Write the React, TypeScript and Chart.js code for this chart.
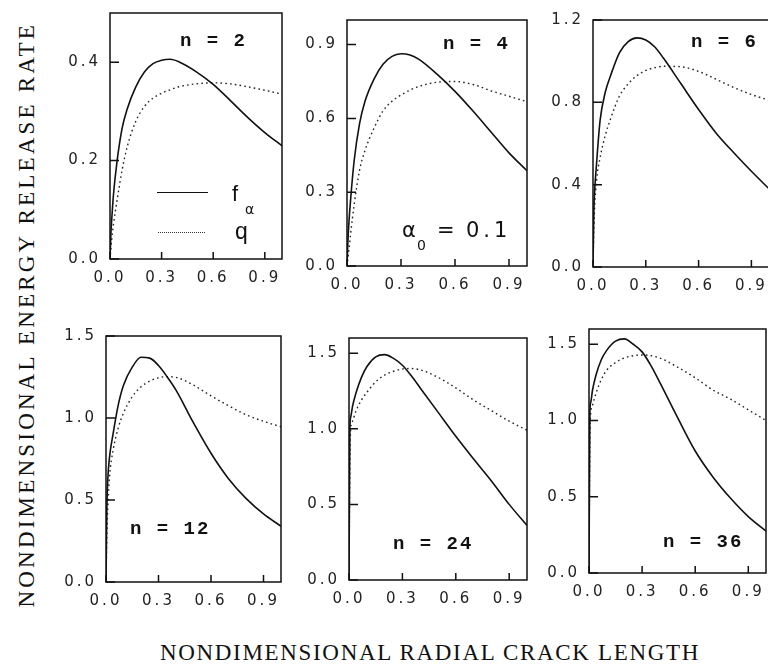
import React, { useEffect, useRef } from "react";
import { Chart, registerables } from "chart.js";
Chart.register(...registerables);

// ---------- data ----------
const xGrid = [0, 0.005, 0.01, 0.02, 0.04, 0.07, 0.1, 0.15, 0.2, 0.25, 0.3, 0.35, 0.4, 0.5, 0.6, 0.7, 0.8, 0.9, 1.0];

const f2 = [0, 0.05, 0.08, 0.13, 0.196, 0.265, 0.305, 0.35, 0.38, 0.397, 0.404, 0.406, 0.401, 0.381, 0.355, 0.322, 0.288, 0.257, 0.23];
const q2 = [0, 0.02, 0.04, 0.07, 0.117, 0.18, 0.228, 0.28, 0.31, 0.327, 0.337, 0.344, 0.35, 0.356, 0.358, 0.356, 0.35, 0.343, 0.335];
const f4 = [0, 0.1, 0.17, 0.27, 0.43, 0.58, 0.67, 0.76, 0.82, 0.852, 0.863, 0.858, 0.84, 0.78, 0.71, 0.63, 0.545, 0.46, 0.387];
const q4 = [0, 0.03, 0.06, 0.13, 0.25, 0.39, 0.47, 0.56, 0.63, 0.67, 0.695, 0.715, 0.73, 0.747, 0.75, 0.738, 0.712, 0.69, 0.668];
const f6 = [0, 0.28, 0.38, 0.5, 0.71, 0.85, 0.93, 1.04, 1.095, 1.113, 1.103, 1.07, 1.015, 0.89, 0.765, 0.65, 0.555, 0.465, 0.38];
const q6 = [0, 0.2, 0.3, 0.42, 0.53, 0.64, 0.72, 0.83, 0.89, 0.93, 0.955, 0.968, 0.975, 0.973, 0.95, 0.912, 0.872, 0.838, 0.81];
const f12 = [0, 0.45, 0.62, 0.76, 0.9, 1.08, 1.2, 1.31, 1.37, 1.365, 1.32, 1.25, 1.17, 0.97, 0.785, 0.63, 0.51, 0.415, 0.34];
const q12 = [0, 0.3, 0.45, 0.64, 0.8, 0.94, 1.03, 1.13, 1.19, 1.225, 1.245, 1.252, 1.248, 1.2, 1.135, 1.075, 1.02, 0.98, 0.946];
const f24 = [0, 1.0, 1.08, 1.15, 1.24, 1.34, 1.41, 1.475, 1.49, 1.465, 1.42, 1.35, 1.27, 1.11, 0.95, 0.8, 0.655, 0.5, 0.36];
const q24 = [0, 0.8, 1.0, 1.05, 1.12, 1.19, 1.24, 1.31, 1.355, 1.38, 1.395, 1.398, 1.39, 1.34, 1.27, 1.19, 1.12, 1.05, 0.99];
const f36 = [0, 1.05, 1.12, 1.2, 1.3, 1.4, 1.46, 1.52, 1.535, 1.5, 1.45, 1.36, 1.25, 1.02, 0.8, 0.63, 0.49, 0.37, 0.275];
const q36 = [0, 0.9, 1.05, 1.1, 1.18, 1.27, 1.33, 1.38, 1.41, 1.425, 1.43, 1.425, 1.41, 1.35, 1.28, 1.2, 1.14, 1.07, 1.0];

const xTicks = [0, 0.3, 0.6, 0.9];
const yTicks2 = [0, 0.2, 0.4];
const yTicks4 = [0, 0.3, 0.6, 0.9];
const yTicks6 = [0, 0.4, 0.8, 1.2];
const yTicksBig = [0, 0.5, 1.0, 1.5];
const yMaxes = [0.5, 1.0, 1.2, 1.5, 1.6, 1.6];
const nLabels = ["n = 2", "n = 4", "n = 6", "n = 12", "n = 24", "n = 36"];
const xTitle = "NONDIMENSIONAL RADIAL CRACK LENGTH";
const yTitle = "NONDIMENSIONAL ENERGY RELEASE RATE";

// ---------- layout ----------
const AXW = 60; // y-axis box width
const AXH = 36; // x-axis box height
const PT = 12; // top padding
const PR = 8; // right padding
const TICK_LS = 3;

type Panel = {
  f: number[]; q: number[]; yTicks: number[]; yMax: number;
  box: [number, number, number, number]; label: string; lab: [number, number];
};

const panels: Panel[] = [
  { f: f2, q: q2, yTicks: yTicks2, yMax: yMaxes[0], box: [110, 7, 282, 259], label: nLabels[0], lab: [180, 47] },
  { f: f4, q: q4, yTicks: yTicks4, yMax: yMaxes[1], box: [347, 14, 527, 266], label: nLabels[1], lab: [443, 50] },
  { f: f6, q: q6, yTicks: yTicks6, yMax: yMaxes[2], box: [593, 14, 769, 267], label: nLabels[2], lab: [691, 48] },
  { f: f12, q: q12, yTicks: yTicksBig, yMax: yMaxes[3], box: [106, 330, 281, 582], label: nLabels[3], lab: [130, 535] },
  { f: f24, q: q24, yTicks: yTicksBig, yMax: yMaxes[4], box: [349, 332, 527, 580], label: nLabels[4], lab: [393, 550] },
  { f: f36, q: q36, yTicks: yTicksBig, yMax: yMaxes[5], box: [589, 323, 766, 573], label: nLabels[5], lab: [663, 548] },
];

const framePlugin = {
  id: "frame",
  beforeDraw(chart: any) {
    chart.ctx.letterSpacing = TICK_LS + "px";
  },
  afterDraw(chart: any) {
    const { ctx, chartArea, scales } = chart;
    const { left, top, right, bottom } = chartArea;
    ctx.save();
    ctx.letterSpacing = "0px";
    ctx.strokeStyle = "#111";
    ctx.lineWidth = 1.5;
    ctx.strokeRect(left, top, right - left, bottom - top);
    ctx.beginPath();
    scales.x.ticks.forEach((t: any) => {
      const px = scales.x.getPixelForValue(t.value);
      ctx.moveTo(px, bottom);
      ctx.lineTo(px, bottom - 7);
    });
    scales.y.ticks.forEach((t: any) => {
      const py = scales.y.getPixelForValue(t.value);
      ctx.moveTo(left, py);
      ctx.lineTo(left + 9, py);
    });
    ctx.stroke();
    ctx.restore();
  },
};

function PanelChart({ p }: { p: Panel }) {
  const ref = useRef<HTMLCanvasElement>(null);
  const [L, T, R, B] = p.box;
  const w = R - L + AXW + PR;
  const h = B - T + AXH + PT;
  useEffect(() => {
    const tickFont = { family: "DejaVu Sans", size: 15 };
    const chart = new Chart(ref.current!, {
      type: "line",
      data: {
        datasets: [
          {
            data: xGrid.map((x, i) => ({ x, y: p.f[i] })),
            borderColor: "#111",
            borderWidth: 1.6,
            pointRadius: 0,
            cubicInterpolationMode: "monotone",
            fill: false,
          },
          {
            data: xGrid.map((x, i) => ({ x, y: p.q[i] })),
            borderColor: "#222",
            borderWidth: 1.4,
            borderDash: [1.6, 3.2],
            pointRadius: 0,
            cubicInterpolationMode: "monotone",
            fill: false,
          },
        ],
      },
      options: {
        animation: false,
        responsive: false,
        maintainAspectRatio: false,
        layout: { padding: { top: PT, right: PR, left: 0, bottom: 0 } },
        plugins: { legend: { display: false }, tooltip: { enabled: false } },
        scales: {
          x: {
            type: "linear",
            min: 0,
            max: 1,
            grid: { display: false, drawTicks: false },
            border: { display: false },
            afterBuildTicks: (s: any) => { s.ticks = xTicks.map((v) => ({ value: v })); },
            afterFit: (s: any) => { s.height = AXH; },
            ticks: {
              padding: 10, font: tickFont, color: "#222", maxRotation: 0, autoSkip: false,
              callback: (v: any) => Number(v).toFixed(1),
            },
          },
          y: {
            type: "linear",
            min: 0,
            max: p.yMax,
            grid: { display: false, drawTicks: false },
            border: { display: false },
            afterBuildTicks: (s: any) => { s.ticks = p.yTicks.map((v) => ({ value: v })); },
            afterFit: (s: any) => { s.width = AXW; },
            ticks: {
              padding: 9, font: tickFont, color: "#222", autoSkip: false,
              callback: (v: any) => Number(v).toFixed(1),
            },
          },
        },
      } as any,
      plugins: [framePlugin],
    });
    return () => chart.destroy();
  }, []);
  return (
    <canvas
      ref={ref}
      width={w}
      height={h}
      style={{ position: "absolute", left: L - AXW, top: T - PT, width: w, height: h }}
    />
  );
}

function spacing(text: string, font: string, target: number) {
  const c = document.createElement("canvas").getContext("2d")!;
  c.font = font;
  const wd = c.measureText(text).width;
  return (target - wd) / (text.length - 1);
}

const txt = (extra: React.CSSProperties): React.CSSProperties => ({
  position: "absolute",
  whiteSpace: "pre",
  lineHeight: 1,
  color: "#111",
  ...extra,
});

export default function App() {
  const titleFont = '23px "Liberation Serif"';
  const lsX = spacing(xTitle, titleFont, 540);
  const lsY = spacing(yTitle, titleFont, 584);
  return (
    <div
      style={{
        position: "absolute", left: 0, top: 0, width: 768, height: 669,
        overflow: "hidden", background: "#fff",
      }}
    >
      {panels.map((p, i) => (
        <PanelChart key={i} p={p} />
      ))}
      {panels.map((p, i) => (
        <div
          key={"n" + i}
          style={txt({
            left: p.lab[0], top: p.lab[1] - 14.6,
            fontFamily: '"Liberation Mono"', fontWeight: "bold", fontSize: 19, letterSpacing: 2,
          })}
        >
          {p.label}
        </div>
      ))}
      {/* legend in first panel */}
      <div style={{ position: "absolute", left: 157, top: 192, width: 51, borderTop: "1.5px solid #111" }} />
      <div style={{ position: "absolute", left: 158, top: 232, width: 47, borderTop: "1.5px dotted #333" }} />
      <div style={txt({ left: 232, top: 183, fontFamily: '"Liberation Sans"', fontSize: 22 })}>f</div>
      <div style={txt({ left: 245, top: 202, fontFamily: '"DejaVu Sans"', fontSize: 14 })}>α</div>
      <div style={txt({ left: 235, top: 220, fontFamily: '"Liberation Sans"', fontSize: 23 })}>q</div>
      {/* alpha_0 = 0.1 */}
      <div style={txt({ left: 402, top: 220, fontFamily: '"DejaVu Sans"', fontSize: 21 })}>α</div>
      <div style={txt({ left: 417, top: 238, fontFamily: '"DejaVu Sans"', fontSize: 14 })}>0</div>
      <div style={txt({ left: 437, top: 220, fontFamily: '"DejaVu Sans"', fontSize: 21 })}>=</div>
      <div style={txt({ left: 466, top: 220, fontFamily: '"DejaVu Sans"', fontSize: 21, letterSpacing: 4 })}>0.1</div>
      {/* axis titles */}
      <div
        style={txt({
          left: 160, top: 640, font: titleFont, letterSpacing: lsX,
        })}
      >
        {xTitle}
      </div>
      <div
        style={txt({
          left: 25.3 - 584 / 2, top: 315 - 23 / 2, width: 584, height: 23,
          font: titleFont, letterSpacing: lsY, transform: "rotate(-90deg)",
          transformOrigin: "50% 50%",
        })}
      >
        {yTitle}
      </div>
    </div>
  );
}
